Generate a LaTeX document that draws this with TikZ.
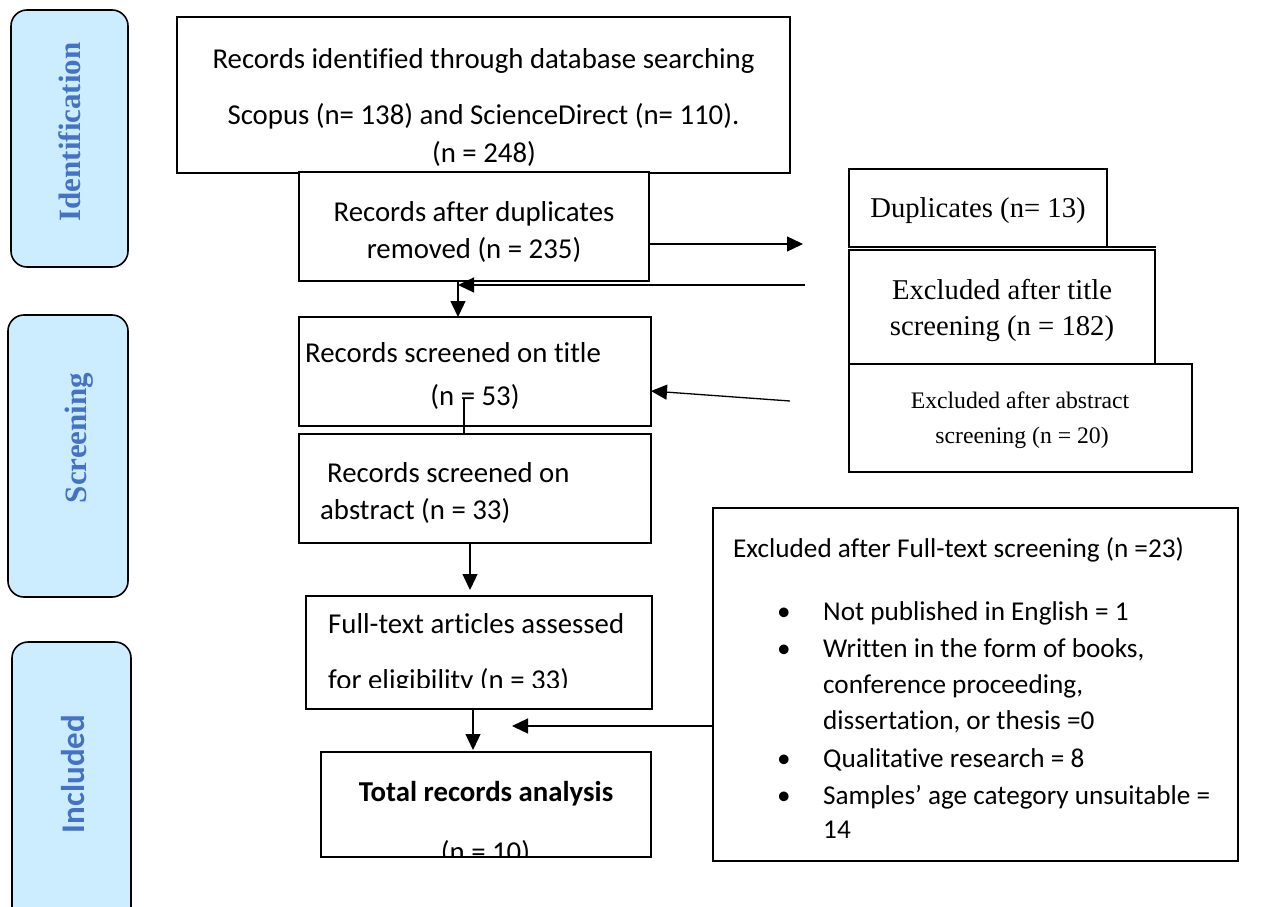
\documentclass[tikz,border=0pt]{standalone}
\usepackage{fontspec}
\setmainfont{Carlito}[Ligatures=CommonOff]
\newfontfamily\tnr{Liberation Serif}
\newfontfamily\calbold{Carlito}[Ligatures=CommonOff]
\usetikzlibrary{arrows.meta,calc}
\definecolor{lblue}{HTML}{4472C4}
\definecolor{lfill}{HTML}{CCECFF}
\begin{document}
\begin{tikzpicture}[x=1pt,y=-1pt,
  box/.style={draw, line width=1.6pt, inner sep=0pt, outer sep=0pt, anchor=north west},
  lab/.style={box, fill=lfill, rounded corners=16pt},
  arr/.style={line width=1.3pt, -{Triangle[length=16pt,width=15pt]}},
  ln/.style={line width=1.3pt},
  cal/.style={font=\fontsize{28.8pt}{34pt}\selectfont, inner sep=0pt, anchor=base},
  calw/.style={cal, anchor=base west},
  calb/.style={font=\fontsize{27.2pt}{32pt}\selectfont, inner sep=0pt, anchor=base west},
  bul/.style={font=\fontsize{27.2pt}{32pt}\selectfont, inner sep=0pt, anchor=base},
  tms/.style={font=\tnr\fontsize{28.7pt}{34pt}\selectfont, inner sep=0pt, anchor=base},
  tmss/.style={font=\tnr\fontsize{23.7pt}{28pt}\selectfont, inner sep=0pt, anchor=base},
  lbls/.style={font=\tnr\bfseries\fontsize{31pt}{36pt}\selectfont, text=lblue, rotate=90, inner sep=0pt},
  lblc/.style={font=\calbold\bfseries\fontsize{33pt}{38pt}\selectfont, text=lblue, rotate=90, inner sep=0pt}
]
\useasboundingbox (0,0) rectangle (1266,907);
\clip (0,0) rectangle (1266,907);

% stage labels
\node[lab, minimum width=117pt, minimum height=257pt] (lid) at (11,10) {};
\node[lbls] (tid) at (69.5,132) {Identification};
\node[lab, minimum width=120pt, minimum height=282pt] (lsc) at (8,315) {};
\node[lbls] (tsc) at (79,438) {Screening};
\node[lab, minimum width=119pt, minimum height=283pt] (lin) at (12,642) {};
\node[lblc] (tin) at (73.5,774) {Included};

% main column boxes
\node[box, minimum width=613pt, minimum height=156pt] (b1) at (177,17) {};
\node[cal] (t1a) at (483.5,69) {Records identified through database searching};
\node[cal] (t1b) at (483.5,124) {Scopus (n= 138) and ScienceDirect (n= 110).};
\node[cal] (t1c) at (484,162) {(n = 248)};

\node[box, fill=white, minimum width=350pt, minimum height=109pt] (b2) at (299,172) {};
\node[cal] (t2a) at (474,221) {Records after duplicates};
\node[cal] (t2b) at (474,258) {removed (n = 235)};

\node[box, minimum width=352pt, minimum height=109pt] (b3) at (299,317) {};
\node[calw] (t3a) at (305,362) {Records screened on title};
\node[cal] (t3b) at (475,405) {(n = 53)};

\node[box, minimum width=352pt, minimum height=109pt] (b4) at (299,434) {};
\node[calw] (t4a) at (327,482) {Records screened on};
\node[calw] (t4b) at (320,519) {abstract (n = 33)};

\node[box, minimum width=346pt, minimum height=113pt] (b5) at (306,596) {};
\node[calw] (t5a) at (328,633) {Full-text articles assessed};
\begin{scope}
\clip (306,596) rectangle (652,687);
\node[calw] (t5b) at (328,689) {for eligibility (n = 33)};
\end{scope}

\node[box, minimum width=330pt, minimum height=105pt] (b6) at (321,752) {};
\node[cal, font=\bfseries\fontsize{28.8pt}{34pt}\selectfont] (t6a) at (486,801) {Total records analysis};
\begin{scope}
\clip (321,752) rectangle (651,857);
\node[cal] (t6b) at (485.5,861) {(n = 10)};
\end{scope}

% right column boxes
\node[box, minimum width=258pt, minimum height=78pt] (dup) at (849,169) {};
\node[tms] (tdup) at (978,217) {Duplicates (n= 13)};
\node[box, minimum width=306pt, minimum height=114pt] (tit) at (849,250) {};
\node[tms] (ttia) at (1002,299) {Excluded after title};
\node[tms] (ttib) at (1002,335) {screening (n = 182)};
\node[box, minimum width=343pt, minimum height=108pt] (abs) at (849,364) {};
\node[tmss] (taba) at (1020,408) {Excluded after abstract};
\node[tmss] (tabb) at (1022,443) {screening (n = 20)};
\draw[line width=1.6pt] (dup.south east) -- ++(49,0);

\node[box, minimum width=525pt, minimum height=353pt] (big) at (713,508) {};
\node[calb] (tbh) at (733,557) {Excluded after Full-text screening (n =23)};
\node[bul] (bu1) at (784,620) {•};
\node[calb] (tb1) at (823,620) {Not published in English = 1};
\node[bul] (bu2) at (784,657) {•};
\node[calb] (tb2) at (823,657) {Written in the form of books,};
\node[calb] (tb3) at (823,693) {conference proceeding,};
\node[calb] (tb4) at (823,729) {dissertation, or thesis =0};
\node[bul] (bu3) at (784,767) {•};
\node[calb] (tb5) at (823,767) {Qualitative research = 8};
\node[bul] (bu4) at (784,804) {•};
\node[calb] (tb6) at (823,804) {Samples’ age category unsuitable =};
\node[calb] (tb7) at (823,838) {14};

% connectors
\coordinate (dupin) at (803,244);
\draw[arr] (dupin -| b2.east) -- (dupin);
\coordinate (v1) at (458,281);
\draw[arr] (v1) -- (v1 |- b3.north);
\coordinate (tline) at (805,285);
\draw[arr] (tline) -- (tline -| v1);
\coordinate (ain) at (790,401);
\draw[arr] (ain) -- ($(b3.east)+(0,19.5)$);
\coordinate (l53) at (464,398);
\draw[ln] (l53) -- (l53 |- b4.north);
\draw[arr] ($(b4.south)+(-5,0)$) -- ++(0,47);
\draw[arr] ($(b5.south)+(-6,0)$) -- ++(0,41);
\coordinate (fin) at (512,726);
\draw[arr] (fin -| big.west) -- (fin);
\end{tikzpicture}
\end{document}
